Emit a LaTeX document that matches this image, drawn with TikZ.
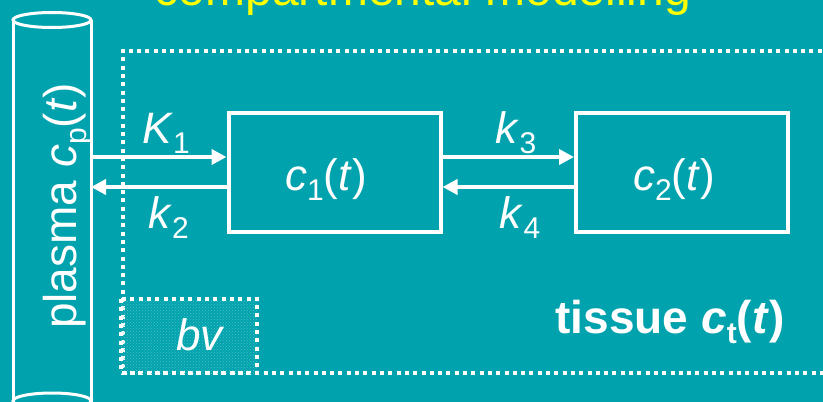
\documentclass[tikz,border=0pt]{standalone}
\usepackage{fontspec}
\setmainfont{Liberation Sans}
\usetikzlibrary{arrows.meta,patterns}
\definecolor{bg}{RGB}{0,163,173}
\definecolor{ttl}{RGB}{255,255,0}
\newcommand\mysub[1]{\raisebox{-0.23em}{\fontsize{30}{30}\selectfont #1}}
\begin{document}
\begin{tikzpicture}[x=1pt,y=-1pt,
  wline/.style={draw=white,line width=3pt},
  box/.style={draw=white,line width=4pt,minimum width=212pt,minimum height=119pt,inner sep=0pt},
  arr/.style={draw=white,line width=4pt,-{Triangle[length=15pt,width=15pt]}},
  dotline/.style={draw=white,line width=4pt,dash pattern=on 4pt off 4.3pt},
  lbl/.style={text=white,font=\fontsize{44}{48}\selectfont,inner sep=0pt,anchor=base},
]
\fill[bg] (0,0) rectangle (823,402);
\useasboundingbox (0,0) rectangle (823,402);
\clip (0,0) rectangle (823,402);

% title
\node[text=ttl,font=\fontsize{48}{50}\selectfont,inner sep=0pt,anchor=base] (title) at (423,5) {compartmental modelling};

% tissue region
\draw[dotline] (830,50.5) -- (123,50.5) -- (123,373) -- (830,373);
% bv
\fill[pattern=crosshatch dots,pattern color=white!30!bg] (121,299) rectangle (257,373);
\draw[dotline] (121,299) rectangle (257,373);
\node[lbl,font=\itshape\fontsize{44}{48}\selectfont] (bv) at (199.5,350) {bv};

% cylinder (plasma)
\draw[wline] (13,20) -- (13,402);
\draw[wline] (91,20) -- (91,402);
\draw[wline] (52,20) ellipse [x radius=39, y radius=7.5];
\draw[wline] (52,401) ellipse [x radius=39, y radius=8];
\node[lbl,font=\fontsize{46}{50}\selectfont,rotate=90] (plasma) at (76,206) {plasma \textit{c}\mysub{p}(\textit{t})};
\coordinate (pl) at (91,172);

% compartments
\node[box] (b1) at (334.5,172) {};
\node[box] (b2) at (682,172) {};
\node[lbl] (c1) at (326,190) {\textit{c}\mysub{1}(\textit{t})};
\node[lbl] (c2) at (674,190) {\textit{c}\mysub{2}(\textit{t})};

% connectors
\draw[arr] ([yshift=15pt]pl) -- ([yshift=15pt]b1.west);
\draw[arr] ([yshift=-15pt]b1.west) -- ([yshift=-15pt]pl);
\draw[arr] ([yshift=15pt]b1.east) -- ([yshift=15pt]b2.west);
\draw[arr] ([yshift=-15pt]b2.west) -- ([yshift=-15pt]b1.east);

% rate labels
\node[lbl] (K1) at (166,143) {\textit{K}\mysub{1}};
\node[lbl] (k2) at (168.5,228) {\textit{k}\mysub{2}};
\node[lbl] (k3) at (516,143) {\textit{k}\mysub{3}};
\node[lbl] (k4) at (520,228) {\textit{k}\mysub{4}};

% tissue label
\node[lbl,font=\bfseries\fontsize{46}{50}\selectfont] (tissue) at (670,333) {tissue \textit{c}\mysub{t}(\textit{t})};
\end{tikzpicture}
\end{document}
